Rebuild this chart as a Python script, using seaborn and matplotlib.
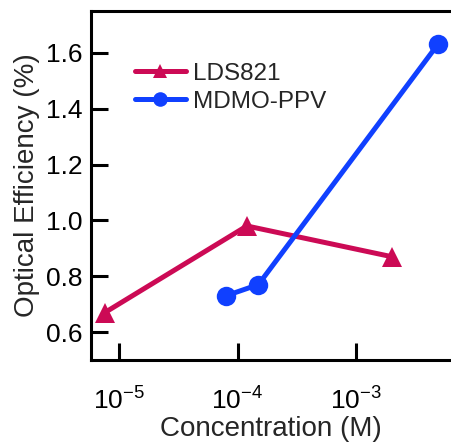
import numpy as np
import pandas as pd
import seaborn as sns
import matplotlib.pyplot as plt
from matplotlib.ticker import NullLocator, FixedLocator

# values
lds_conc = [7.6e-6, 1.2e-4, 2.0e-3]
lds_eff = [0.67, 0.98, 0.87]
mdmo_conc = [8.0e-5, 1.5e-4, 4.9e-3]
mdmo_eff = [0.73, 0.77, 1.63]
series_names = ['LDS821', 'MDMO-PPV']
colors = {'LDS821': '#CC0A55', 'MDMO-PPV': '#1040FF'}
markers = {'LDS821': '^', 'MDMO-PPV': 'o'}
y_ticks = [0.6, 0.8, 1.0, 1.2, 1.4, 1.6]

df = pd.concat([
    pd.DataFrame({'conc': lds_conc, 'eff': lds_eff, 'series': series_names[0]}),
    pd.DataFrame({'conc': mdmo_conc, 'eff': mdmo_eff, 'series': series_names[1]}),
])

sns.set_style('white')
plt.rcParams['font.family'] = ['Liberation Sans', 'DejaVu Sans']
plt.rcParams['mathtext.fontset'] = 'custom'
plt.rcParams['mathtext.rm'] = 'Liberation Sans'
plt.rcParams['mathtext.it'] = 'Liberation Sans:italic'

fig = plt.figure(figsize=(4.51, 4.43), dpi=100)
ax = fig.add_axes([0.2018, 0.1874, 0.7982, 0.7878])
ax.set_xscale('log')

sns.lineplot(data=df, x='conc', y='eff', hue='series', style='series',
             palette=colors, markers=markers, dashes=False, linewidth=3.6,
             markersize=14, markeredgewidth=0, sort=False, ax=ax, clip_on=False)

ax.set_xlim(5.8e-6, 6.34e-3)
ax.set_ylim(0.5, 1.75)
ax.xaxis.set_major_locator(FixedLocator([1e-5, 1e-4, 1e-3]))
ax.xaxis.set_minor_locator(NullLocator())
ax.set_xticklabels([r'$10^{-5}$', r'$10^{-4}$', r'$10^{-3}$'])
ax.set_yticks(y_ticks)
ax.set_yticklabels([f'{v:.1f}' for v in y_ticks])

ax.tick_params(axis='both', which='major', direction='in', length=12, width=2.2,
               labelsize=19, colors='black', bottom=True, left=True,
               top=False, right=False)
ax.tick_params(axis='x', pad=20)
ax.tick_params(axis='y', pad=6)

for side in ['left', 'bottom', 'top']:
    ax.spines[side].set_linewidth(2.2)
    ax.spines[side].set_color('black')
ax.spines['right'].set_visible(False)

ax.set_xlabel('Concentration (M)', fontsize=20, labelpad=1)
ax.set_ylabel('Optical Efficiency (%)', fontsize=20, labelpad=4)

leg = ax.legend(loc='upper left', bbox_to_anchor=(0.095, 0.88), frameon=False,
                fontsize=17.5, handlelength=2.1, markerscale=0.75,
                labelspacing=0.25, handletextpad=0.3, borderaxespad=0)

fig.savefig('out.png', dpi=100)
